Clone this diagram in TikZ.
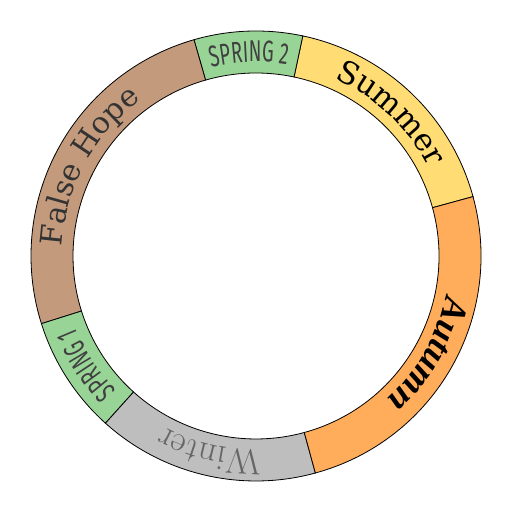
\documentclass[tikz,border=0pt]{standalone}
\usepackage{fontspec}
\usetikzlibrary{decorations.text}
\newfontfamily\springfont[FakeStretch=0.62]{Fira Sans}
\newfontfamily\summerfont{DejaVu Serif}
\newfontfamily\autumnfont{Liberation Serif}
\newfontfamily\hopefont{DejaVu Serif}
\definecolor{springgreen}{HTML}{99D497}
\definecolor{summeryellow}{HTML}{FFDC74}
\definecolor{autumnorange}{HTML}{FFAD5A}
\definecolor{wintergray}{HTML}{BEBEBE}
\definecolor{hopebrown}{HTML}{C39B7C}
\newcommand\ringseg[3]{%
  \filldraw[fill=#3, draw=black, line width=0.8pt]
    (#1:225) arc[start angle=#1, end angle=#2, radius=225]
    -- (#2:183) arc[start angle=#2, end angle=#1, radius=183] -- cycle;}
\newcommand\ringlabel[5]{%
  \path[decorate, decoration={text along path, text={|#3|#5}, text align=center, text color=#4}]
    (#1:194) arc[start angle=#1, end angle=#2, radius=194];}
\begin{document}
\begin{tikzpicture}[x=1pt,y=1pt]
\useasboundingbox (0,0) rectangle (512,511);
\begin{scope}[shift={(256,255)}]
  \ringseg{15.3}{78}{summeryellow}
  \ringseg{78}{106}{springgreen}
  \ringseg{106}{197.5}{hopebrown}
  \ringseg{197.5}{228}{springgreen}
  \ringseg{228}{285.3}{wintergray}
  \ringseg{285.3}{375.3}{autumnorange}
  \ringlabel{106.65}{-13.35}{\fontsize{31}{36}\selectfont\summerfont}{black}{Summer}
  \ringlabel{152}{32}{\fontsize{30}{36}\selectfont\springfont}{black!75}{SPRING 2}
  \ringlabel{211.75}{91.75}{\fontsize{30}{36}\selectfont\hopefont}{black!80}{False Hope}
  \ringlabel{272.75}{152.75}{\fontsize{30}{36}\selectfont\springfont}{black!75}{SPRING 1}
  \ringlabel{316.65}{196.65}{\fontsize{36}{42}\selectfont\rmfamily}{black!60}{Winter}
  \ringlabel{390.3}{270.3}{\fontsize{36}{42}\selectfont\autumnfont\bfseries\itshape}{black}{Autumn}
\end{scope}
\end{tikzpicture}
\end{document}
